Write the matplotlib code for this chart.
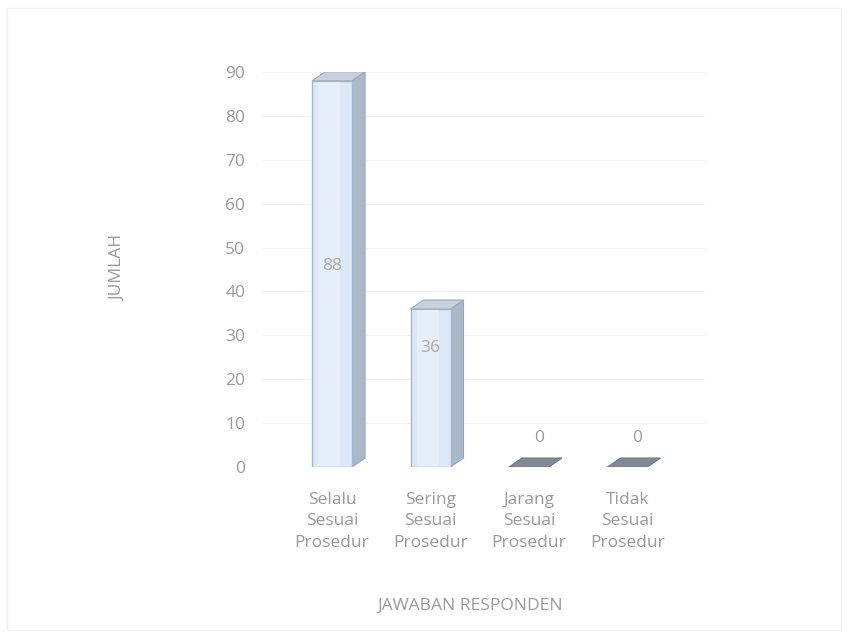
import matplotlib.pyplot as plt
from matplotlib.patches import Polygon, Rectangle

kategori = ['Selalu\nSesuai\nProsedur', 'Sering\nSesuai\nProsedur',
            'Jarang\nSesuai\nProsedur', 'Tidak\nSesuai\nProsedur']
jumlah = [88, 36, 0, 0]
yticks = [0, 10, 20, 30, 40, 50, 60, 70, 80, 90]

plt.rcParams['font.family'] = ['Open Sans', 'DejaVu Sans']
abu = '#9a9a9a'

fig = plt.figure(figsize=(8.48, 6.37), dpi=100)
ax = fig.add_axes([262/848, 170/637, 443/848, 395/637])
ax.set_xlim(-0.711, 3.787)
ax.set_ylim(0, 90)

# garis grid tipis
for t in yticks:
    ax.axhline(t, color='#f3f3f3', lw=0.8, zorder=0)

w = 0.406   # lebar muka depan
dx = 0.132  # kedalaman ke kanan
dy = 2.05   # kedalaman ke atas

x = range(len(jumlah))
bars = ax.bar(x, jumlah, width=w, color='#dce8f6', edgecolor='#9ab7da',
              linewidth=1.0, zorder=3)
for b, v in zip(bars, jumlah):
    x0 = b.get_x()
    x1 = x0 + b.get_width()
    if v > 0:
        # sisi kanan
        ax.add_patch(Polygon([(x1, 0), (x1 + dx, dy), (x1 + dx, v + dy), (x1, v)],
                             closed=True, fc='#abb8c8', ec='#96a6b8', lw=0.8, zorder=2))
        # sisi atas
        ax.add_patch(Polygon([(x0, v), (x0 + dx, v + dy), (x1 + dx, v + dy), (x1, v)],
                             closed=True, fc='#c8d1dc', ec='#9eabba', lw=0.8, zorder=4))
        # kilau halus muka depan
        ax.add_patch(Rectangle((x0 + w*0.15, 0.3), w*0.55, v - 0.6,
                               fc='#e6eff9', ec='none', zorder=3.5))
    else:
        ax.add_patch(Polygon([(x0, 0), (x0 + dx, dy), (x1 + dx, dy), (x1, 0)],
                             closed=True, fc='#7f8a96', ec='#717c88', lw=0.8, zorder=4))

# label nilai
lbl_y = [v * 0.52 if v > 50 else (v * 0.75 if v > 0 else 6.6) for v in jumlah]
for i, v in enumerate(jumlah):
    xi = i if v > 0 else i + 0.1
    ax.text(xi, lbl_y[i], str(v), ha='center', va='center', fontsize=12.5,
            color='#a8a8a8' if v > 0 else abu, zorder=6)

ax.set_yticks(yticks)
ax.set_xticks(list(x))
ax.set_xticklabels(kategori, linespacing=1.45)
ax.tick_params(axis='y', length=0, pad=12, labelsize=12.5, labelcolor=abu)
ax.tick_params(axis='x', length=0, pad=18, labelsize=12.5, labelcolor=abu)
for s in ax.spines.values():
    s.set_visible(False)

fig.text(118/848, 1 - 268/637, 'JUMLAH', rotation=90, ha='center', va='center',
         fontsize=12.5, color=abu)
fig.text(470/848, 1 - 606/637, 'JAWABAN RESPONDEN', ha='center', va='center',
         fontsize=12.5, color=abu)

fig.patches.append(Rectangle((7/848, 7/637), 834/848, 622/637, transform=fig.transFigure,
                             fill=False, ec='#f2f2f2', lw=1.0))

fig.savefig('out.png', dpi=100)
